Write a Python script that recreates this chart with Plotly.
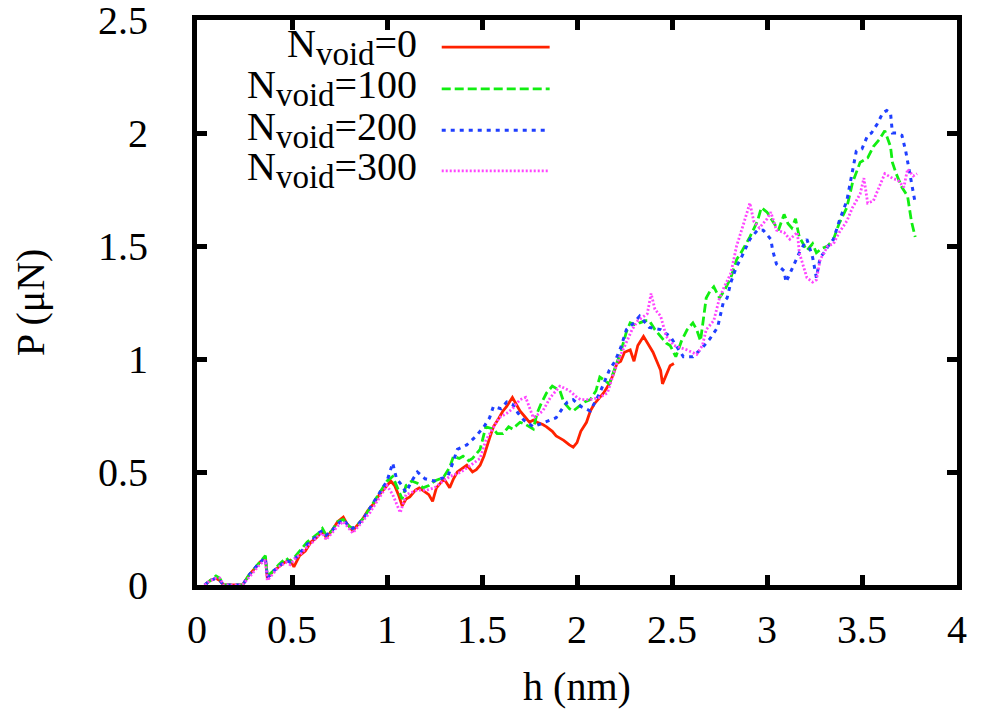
import plotly.graph_objects as go

# ---------------- data ----------------
h_red = [0.04,0.07,0.10,0.12,0.14,0.20,0.24,0.27,0.30,0.33,
         0.36,0.37,0.40,0.43,0.46,0.49,0.51,0.54,0.57,0.60,
         0.63,0.66,0.68,0.71,0.74,0.77,0.79,0.82,0.85,0.87,
         0.90,0.93,0.96,0.99,1.02,1.04,1.06,1.08,1.10,1.12,
         1.15,1.17,1.20,1.22,1.24,1.26,1.28,1.30,1.33,1.35,
         1.37,1.40,1.42,1.45,1.47,1.49,1.51,1.54,1.56,1.59,
         1.61,1.63,1.66,1.68,1.70,1.73,1.75,1.77,1.79,1.82,
         1.84,1.87,1.89,1.91,1.93,1.96,1.98,2.00,2.02,2.05,
         2.07,2.09,2.12,2.14,2.17,2.19,2.21,2.23,2.25,2.28,
         2.30,2.32,2.35,2.37,2.40,2.42,2.44,2.45,2.47,2.49,
         2.51]
p_red = [0.00,0.02,0.03,0.02,0.00,0.00,0.00,0.04,0.07,0.10,
         0.12,0.03,0.06,0.08,0.10,0.11,0.08,0.13,0.15,0.19,
         0.21,0.24,0.21,0.24,0.28,0.30,0.27,0.24,0.27,0.29,
         0.33,0.36,0.40,0.43,0.46,0.44,0.40,0.35,0.38,0.39,
         0.42,0.43,0.41,0.40,0.37,0.43,0.45,0.47,0.43,0.47,
         0.50,0.52,0.53,0.50,0.51,0.53,0.57,0.65,0.70,0.74,
         0.77,0.79,0.83,0.80,0.77,0.74,0.72,0.73,0.72,0.71,
         0.70,0.68,0.66,0.65,0.64,0.62,0.61,0.63,0.68,0.72,
         0.77,0.80,0.83,0.85,0.89,0.93,0.98,0.99,1.03,1.04,
         0.99,1.06,1.10,1.07,1.03,0.99,0.95,0.89,0.93,0.97,
         0.98]

h_green = [0.04,0.07,0.10,0.12,0.14,0.20,0.24,0.27,0.30,0.33,
           0.36,0.37,0.40,0.43,0.47,0.49,0.52,0.55,0.58,0.61,
           0.64,0.66,0.68,0.71,0.74,0.77,0.80,0.82,0.85,0.88,
           0.91,0.94,0.97,1.00,1.03,1.05,1.08,1.10,1.13,1.16,
           1.19,1.22,1.25,1.28,1.30,1.33,1.35,1.38,1.40,1.43,
           1.45,1.49,1.52,1.56,1.58,1.61,1.64,1.66,1.70,1.73,
           1.75,1.77,1.79,1.81,1.84,1.87,1.89,1.91,1.93,1.96,
           1.98,2.01,2.04,2.07,2.10,2.12,2.15,2.17,2.20,2.23,
           2.26,2.28,2.31,2.33,2.36,2.38,2.41,2.44,2.47,2.49,
           2.52,2.55,2.58,2.61,2.63,2.65,2.68,2.70,2.72,2.75,
           2.78,2.81,2.84,2.87,2.91,2.95,2.97,3.00,3.03,3.06,
           3.09,3.11,3.13,3.15,3.17,3.21,3.24,3.26,3.29,3.32,
           3.35,3.38,3.42,3.45,3.49,3.53,3.56,3.59,3.62,3.65,
           3.66,3.68,3.71,3.74,3.76,3.78]
p_green = [0.00,0.02,0.04,0.03,0.00,0.00,0.00,0.04,0.07,0.10,
           0.13,0.04,0.06,0.09,0.12,0.10,0.13,0.16,0.19,0.21,
           0.23,0.25,0.22,0.24,0.28,0.29,0.26,0.25,0.27,0.30,
           0.34,0.38,0.42,0.46,0.48,0.44,0.38,0.44,0.46,0.45,
           0.43,0.44,0.46,0.47,0.48,0.52,0.57,0.56,0.57,0.55,
           0.56,0.60,0.70,0.69,0.67,0.67,0.70,0.69,0.72,0.71,
           0.70,0.69,0.76,0.80,0.85,0.88,0.87,0.86,0.81,0.78,
           0.77,0.79,0.81,0.82,0.86,0.92,0.90,0.89,0.96,1.03,
           1.12,1.16,1.15,1.16,1.17,1.17,1.13,1.10,1.07,1.06,
           1.01,1.08,1.13,1.16,1.13,1.08,1.27,1.30,1.32,1.27,
           1.31,1.36,1.44,1.48,1.54,1.61,1.67,1.65,1.61,1.57,
           1.64,1.60,1.58,1.62,1.54,1.48,1.51,1.47,1.49,1.50,
           1.53,1.60,1.67,1.78,1.87,1.89,1.94,1.97,2.01,1.94,
           1.87,1.82,1.76,1.72,1.61,1.54]

h_blue = [0.04,0.07,0.10,0.12,0.14,0.20,0.24,0.27,0.30,0.33,
          0.36,0.37,0.40,0.43,0.47,0.49,0.52,0.55,0.58,0.61,
          0.64,0.66,0.68,0.71,0.74,0.77,0.80,0.82,0.85,0.88,
          0.91,0.94,0.97,1.00,1.03,1.05,1.07,1.10,1.13,1.16,
          1.20,1.25,1.28,1.32,1.35,1.37,1.42,1.47,1.51,1.54,
          1.56,1.60,1.63,1.66,1.69,1.72,1.77,1.80,1.84,1.89,
          1.93,1.95,1.98,2.02,2.07,2.12,2.17,2.20,2.23,2.26,
          2.30,2.33,2.38,2.44,2.49,2.53,2.56,2.61,2.66,2.70,
          2.74,2.77,2.79,2.81,2.84,2.86,2.91,2.95,2.98,3.02,
          3.03,3.05,3.09,3.10,3.14,3.17,3.21,3.24,3.26,3.28,
          3.30,3.33,3.35,3.38,3.42,3.45,3.47,3.50,3.53,3.55,
          3.58,3.61,3.63,3.65,3.66,3.68,3.71,3.73,3.74,3.77,
          3.78]
p_blue = [0.00,0.02,0.03,0.02,0.00,0.00,0.00,0.04,0.07,0.10,
          0.12,0.03,0.06,0.08,0.11,0.10,0.12,0.15,0.18,0.20,
          0.23,0.24,0.22,0.24,0.27,0.29,0.26,0.25,0.27,0.30,
          0.34,0.38,0.42,0.46,0.54,0.47,0.45,0.41,0.46,0.50,
          0.47,0.46,0.47,0.48,0.55,0.60,0.62,0.66,0.70,0.74,
          0.79,0.78,0.81,0.80,0.76,0.73,0.70,0.71,0.72,0.74,
          0.79,0.81,0.82,0.79,0.77,0.85,0.95,0.99,1.05,1.13,
          1.16,1.19,1.14,1.13,1.10,1.05,1.01,1.01,1.05,1.09,
          1.14,1.25,1.27,1.34,1.41,1.44,1.53,1.57,1.57,1.53,
          1.48,1.42,1.39,1.34,1.41,1.47,1.53,1.45,1.36,1.45,
          1.47,1.51,1.53,1.61,1.70,1.84,1.92,1.93,1.99,2.00,
          2.04,2.09,2.10,2.09,2.00,2.00,1.99,1.92,1.87,1.73,
          1.69]

h_mag = [0.04,0.07,0.10,0.12,0.14,0.20,0.24,0.27,0.30,0.33,
         0.36,0.37,0.40,0.43,0.47,0.49,0.52,0.55,0.58,0.61,
         0.64,0.66,0.68,0.71,0.74,0.77,0.80,0.82,0.85,0.88,
         0.91,0.94,0.97,1.00,1.03,1.05,1.07,1.10,1.13,1.16,
         1.21,1.25,1.28,1.33,1.36,1.39,1.44,1.49,1.52,1.56,
         1.59,1.63,1.66,1.70,1.73,1.77,1.80,1.82,1.86,1.91,
         1.96,2.00,2.02,2.07,2.12,2.16,2.21,2.26,2.29,2.32,
         2.37,2.39,2.41,2.44,2.47,2.51,2.55,2.58,2.63,2.66,
         2.68,2.72,2.75,2.77,2.81,2.84,2.87,2.91,2.93,2.96,
         3.00,3.02,3.05,3.09,3.12,3.16,3.17,3.21,3.24,3.26,
         3.28,3.32,3.35,3.38,3.42,3.45,3.49,3.51,3.53,3.56,
         3.59,3.62,3.66,3.69,3.72,3.74,3.77,3.79]
p_mag = [0.00,0.02,0.03,0.03,0.00,0.00,0.00,0.03,0.06,0.09,
         0.11,0.02,0.05,0.08,0.10,0.09,0.12,0.14,0.17,0.19,
         0.22,0.23,0.20,0.23,0.26,0.28,0.25,0.23,0.26,0.29,
         0.32,0.36,0.40,0.44,0.40,0.36,0.32,0.40,0.41,0.42,
         0.42,0.43,0.45,0.48,0.49,0.50,0.53,0.56,0.64,0.70,
         0.74,0.76,0.78,0.82,0.83,0.74,0.76,0.77,0.83,0.88,
         0.86,0.83,0.82,0.82,0.83,0.85,0.98,1.07,1.13,1.17,
         1.20,1.29,1.22,1.19,1.10,1.06,1.05,1.04,1.02,1.06,
         1.13,1.17,1.27,1.31,1.38,1.50,1.58,1.69,1.61,1.58,
         1.62,1.65,1.57,1.56,1.53,1.56,1.47,1.36,1.34,1.35,
         1.44,1.50,1.51,1.56,1.61,1.67,1.73,1.80,1.69,1.70,
         1.76,1.82,1.80,1.79,1.76,1.84,1.81,1.82]

void_counts = ["0", "100", "200", "300"]
x_ticks = [0, 0.5, 1, 1.5, 2, 2.5, 3, 3.5, 4]
x_tick_labels = ["0", "0.5", "1", "1.5", "2", "2.5", "3", "3.5", "4"]
y_ticks = [0, 0.5, 1, 1.5, 2, 2.5]
y_tick_labels = ["0", "0.5", "1", "1.5", "2", "2.5"]

# ---------------- styling ----------------
FONT = "Liberation Serif, Times New Roman, Times, serif"
colors = ["#ff2200", "#11ee11", "#1f3fff", "#ff44ff"]
dashes = ["solid", "9px,4px", "4px,5px", "2px,2px"]
widths = [2.8, 2.8, 3.0, 2.8]

data = [(h_red, p_red), (h_green, p_green), (h_blue, p_blue), (h_mag, p_mag)]
names = ["N<sub><span style='font-size:33px'>void</span></sub>=" + n
         for n in void_counts]

fig = go.Figure()
for (hx, py), name, c, d, w in zip(data, names, colors, dashes, widths):
    assert len(hx) == len(py)
    fig.add_trace(go.Scatter(x=hx, y=py, mode="lines", name=name,
                             line=dict(color=c, dash=d, width=w),
                             showlegend=False))

# gnuplot-style key: right-aligned text followed by the line sample
key_rows = [0.952, 0.878, 0.805, 0.733]
for name, c, d, w, yk in zip(names, colors, dashes, widths, key_rows):
    fig.add_annotation(xref="paper", yref="paper", x=0.292, y=yk,
                       text=name, showarrow=False, xanchor="right",
                       yanchor="middle", yshift=1,
                       font=dict(family=FONT, size=40, color="black"))
    fig.add_shape(type="line", xref="paper", yref="paper",
                  x0=0.322, x1=0.464, y0=yk, y1=yk,
                  line=dict(color=c, dash=d, width=w))

axis_common = dict(showgrid=False, zeroline=False, showline=True,
                   linecolor="black", linewidth=5, mirror="allticks",
                   ticks="inside", ticklen=10, tickwidth=5, tickcolor="black",
                   automargin=False, ticklabeloverflow="allow",
                   tickfont=dict(family=FONT, size=40, color="black"))

fig.update_xaxes(range=[0, 4], tickvals=x_ticks, ticktext=x_tick_labels,
                 ticklabelstandoff=5,
                 title=dict(text="h (nm)", font=dict(family=FONT, size=40, color="black"),
                            standoff=22),
                 **axis_common)
fig.update_yaxes(range=[0, 2.5], tickvals=y_ticks, ticktext=y_tick_labels,
                 ticklabelstandoff=36,
                 title=dict(text="P (μN)", font=dict(family=FONT, size=40, color="black"),
                            standoff=55),
                 **axis_common)

# the page body adds an 8px offset, so the figure is sized to the remaining window
fig.update_layout(width=974, height=703,
                  margin=dict(l=189, r=25, t=12, b=126),
                  plot_bgcolor="white", paper_bgcolor="white",
                  font=dict(family=FONT, color="black"))

fig.write_html("out.html")
